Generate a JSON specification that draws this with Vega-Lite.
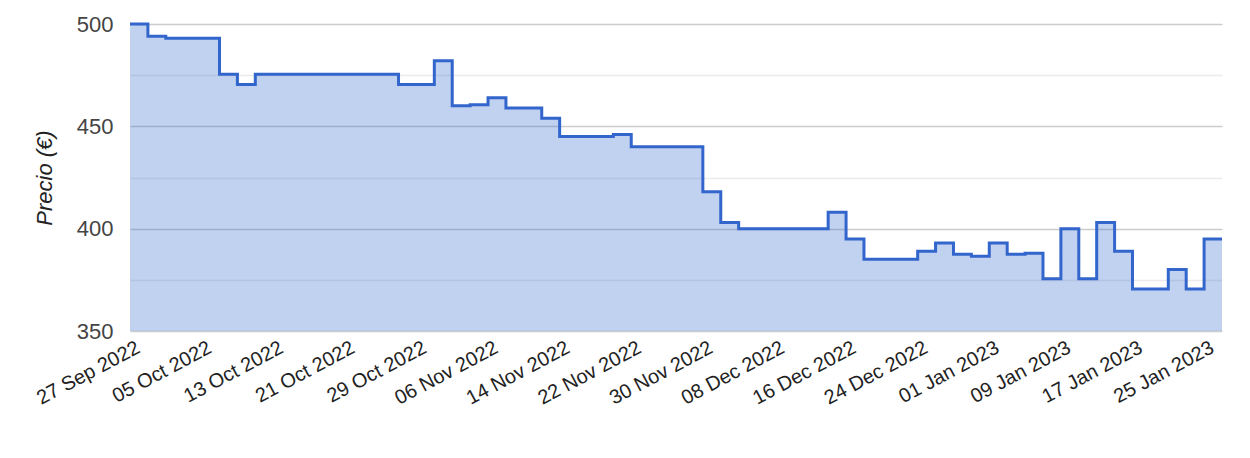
{
  "$schema": "https://vega.github.io/schema/vega-lite/v6.json",
  "autosize": {"type": "none"},
  "width": 1092,
  "height": 307,
  "padding": {"left": 130, "top": 24, "right": 28, "bottom": 127},
  "background": "white",
  "config": {
    "view": {"stroke": null},
    "font": "Liberation Sans"
  },
  "data": {
    "values": [
      {"date": "2022-09-27", "precio": 500},
      {"date": "2022-09-29", "precio": 494},
      {"date": "2022-10-01", "precio": 493},
      {"date": "2022-10-03", "precio": 493},
      {"date": "2022-10-05", "precio": 493},
      {"date": "2022-10-07", "precio": 475.5},
      {"date": "2022-10-09", "precio": 470.5},
      {"date": "2022-10-11", "precio": 475.5},
      {"date": "2022-10-13", "precio": 475.5},
      {"date": "2022-10-15", "precio": 475.5},
      {"date": "2022-10-17", "precio": 475.5},
      {"date": "2022-10-19", "precio": 475.5},
      {"date": "2022-10-21", "precio": 475.5},
      {"date": "2022-10-23", "precio": 475.5},
      {"date": "2022-10-25", "precio": 475.5},
      {"date": "2022-10-27", "precio": 470.5},
      {"date": "2022-10-29", "precio": 470.5},
      {"date": "2022-10-31", "precio": 482},
      {"date": "2022-11-02", "precio": 460},
      {"date": "2022-11-04", "precio": 460.5},
      {"date": "2022-11-06", "precio": 464},
      {"date": "2022-11-08", "precio": 459},
      {"date": "2022-11-10", "precio": 459},
      {"date": "2022-11-12", "precio": 454},
      {"date": "2022-11-14", "precio": 445},
      {"date": "2022-11-16", "precio": 445},
      {"date": "2022-11-18", "precio": 445},
      {"date": "2022-11-20", "precio": 446},
      {"date": "2022-11-22", "precio": 440},
      {"date": "2022-11-24", "precio": 440},
      {"date": "2022-11-26", "precio": 440},
      {"date": "2022-11-28", "precio": 440},
      {"date": "2022-11-30", "precio": 418},
      {"date": "2022-12-02", "precio": 403},
      {"date": "2022-12-04", "precio": 400},
      {"date": "2022-12-06", "precio": 400},
      {"date": "2022-12-08", "precio": 400},
      {"date": "2022-12-10", "precio": 400},
      {"date": "2022-12-12", "precio": 400},
      {"date": "2022-12-14", "precio": 408},
      {"date": "2022-12-16", "precio": 395},
      {"date": "2022-12-18", "precio": 385},
      {"date": "2022-12-20", "precio": 385},
      {"date": "2022-12-22", "precio": 385},
      {"date": "2022-12-24", "precio": 389},
      {"date": "2022-12-26", "precio": 393},
      {"date": "2022-12-28", "precio": 387.5},
      {"date": "2022-12-30", "precio": 386.5},
      {"date": "2023-01-01", "precio": 393},
      {"date": "2023-01-03", "precio": 387.5},
      {"date": "2023-01-05", "precio": 388},
      {"date": "2023-01-07", "precio": 375.5},
      {"date": "2023-01-09", "precio": 400},
      {"date": "2023-01-11", "precio": 375.5},
      {"date": "2023-01-13", "precio": 403},
      {"date": "2023-01-15", "precio": 389},
      {"date": "2023-01-17", "precio": 370.5},
      {"date": "2023-01-19", "precio": 370.5},
      {"date": "2023-01-21", "precio": 380},
      {"date": "2023-01-23", "precio": 370.5},
      {"date": "2023-01-25", "precio": 395},
      {"date": "2023-01-27", "precio": 395}
    ]
  },
  "encoding": {
    "x": {
      "field": "date",
      "type": "temporal",
      "scale": {"type": "utc", "domain": [{"year": 2022, "month": 9, "date": 27, "utc": true}, {"year": 2023, "month": 1, "date": 27, "utc": true}]},
      "axis": {
        "title": null,
        "grid": false,
        "domain": false,
        "ticks": false,
        "labelExpr": "utcFormat(datum.value, '%d %b %Y')",
        "values": [
          {"year": 2022, "month": 9, "date": 27, "utc": true},
          {"year": 2022, "month": 10, "date": 5, "utc": true},
          {"year": 2022, "month": 10, "date": 13, "utc": true},
          {"year": 2022, "month": 10, "date": 21, "utc": true},
          {"year": 2022, "month": 10, "date": 29, "utc": true},
          {"year": 2022, "month": 11, "date": 6, "utc": true},
          {"year": 2022, "month": 11, "date": 14, "utc": true},
          {"year": 2022, "month": 11, "date": 22, "utc": true},
          {"year": 2022, "month": 11, "date": 30, "utc": true},
          {"year": 2022, "month": 12, "date": 8, "utc": true},
          {"year": 2022, "month": 12, "date": 16, "utc": true},
          {"year": 2022, "month": 12, "date": 24, "utc": true},
          {"year": 2023, "month": 1, "date": 1, "utc": true},
          {"year": 2023, "month": 1, "date": 9, "utc": true},
          {"year": 2023, "month": 1, "date": 17, "utc": true},
          {"year": 2023, "month": 1, "date": 25, "utc": true}
        ],
        "labelAngle": -28,
        "labelAlign": "right",
        "labelBaseline": "middle",
        "labelFontSize": 20,
        "labelColor": "#222222",
        "labelPadding": 15,
        "labelOffset": 8,
        "labelOverlap": false,
        "labelFlush": false,
        "labelBound": false
      }
    },
    "y": {
      "field": "precio",
      "type": "quantitative",
      "scale": {"domain": [350, 500], "zero": false, "nice": false},
      "axis": {
        "title": "Precio (€)",
        "titleFontStyle": "italic",
        "titleFontWeight": "normal",
        "titleFontSize": 22,
        "titleColor": "#222222",
        "titlePadding": 20,
        "values": [350, 375, 400, 425, 450, 475, 500],
        "labelExpr": "datum.value % 50 === 0 ? datum.label : ''",
        "labelFontSize": 22,
        "labelColor": "#444444",
        "labelPadding": 17,
        "ticks": false,
        "domain": false,
        "gridColor": {"condition": {"test": "datum.value % 50 === 0", "value": "#cccccc"}, "value": "#ebebeb"},
        "gridWidth": 1.5
      }
    }
  },
  "layer": [
    {
      "mark": {"type": "area", "interpolate": "step-after", "color": "#3366cc", "fillOpacity": 0.3},
      "encoding": {"y2": {"datum": 350}}
    },
    {"mark": {"type": "line", "interpolate": "step-after", "color": "#3366cc", "strokeWidth": 3}}
  ]
}
